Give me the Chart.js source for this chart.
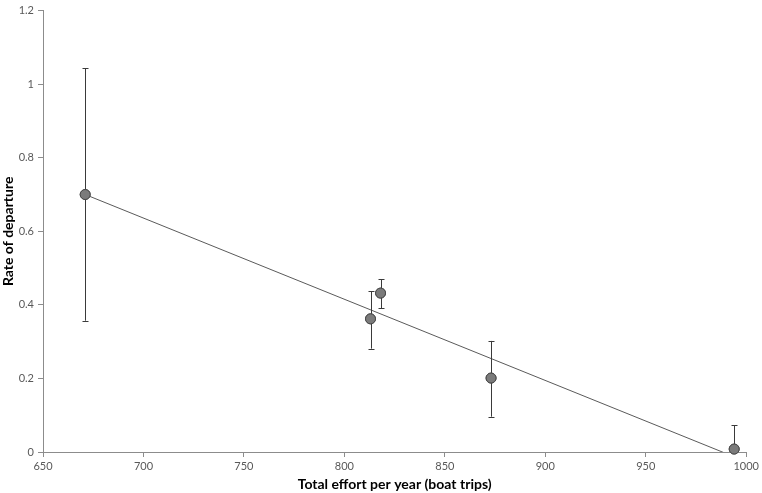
<!DOCTYPE html>
<html>
<head>
<meta charset="utf-8">
<script src="https://cdn.jsdelivr.net/npm/chart.js@4"></script>
<style>
html,body{margin:0;padding:0;background:#fff;}
#wrap{width:762px;height:493px;position:relative;}
</style>
</head>
<body>
<div id="wrap"><canvas id="c" width="762" height="493"></canvas></div>
<script>
// Data
const effort = [671, 813, 818, 873, 994];
const departureRate = [0.700, 0.362, 0.432, 0.201, 0.008];
const errorUpper = [1.043, 0.437, 0.469, 0.302, 0.073];
const errorLower = [0.357, 0.281, 0.391, 0.096, -0.06];
const trendX = [671, 994];
const trendY = [0.700, -0.013];
const xTicks = [650, 700, 750, 800, 850, 900, 950, 1000];
const yTicks = [0, 0.2, 0.4, 0.6, 0.8, 1, 1.2];

const FONT = 'Lato, "Open Sans", sans-serif';

const errorBarPlugin = {
  id: 'errorBars',
  afterDatasetsDraw(chart) {
    const ctx = chart.ctx, xs = chart.scales.x, ys = chart.scales.y, a = chart.chartArea;
    ctx.save();
    ctx.beginPath();
    ctx.rect(a.left, a.top - 1, a.right - a.left, a.bottom - a.top + 1);
    ctx.clip();
    ctx.strokeStyle = '#3a3a3a';
    ctx.lineWidth = 1;
    for (let i = 0; i < effort.length; i++) {
      const px = Math.round(xs.getPixelForValue(effort[i])) + 0.5;
      const top = ys.getPixelForValue(errorUpper[i]);
      const bot = ys.getPixelForValue(errorLower[i]);
      ctx.beginPath();
      ctx.moveTo(px, top); ctx.lineTo(px, bot);
      ctx.moveTo(px - 3, Math.round(top) + 0.5); ctx.lineTo(px + 3, Math.round(top) + 0.5);
      ctx.moveTo(px - 3, Math.round(bot) + 0.5); ctx.lineTo(px + 3, Math.round(bot) + 0.5);
      ctx.stroke();
    }
    ctx.restore();
    // redraw points above error bars
    const meta = chart.getDatasetMeta(1);
    meta.controller.draw();
  }
};

new Chart(document.getElementById('c'), {
  type: 'scatter',
  data: {
    datasets: [
      {
        type: 'line',
        data: trendX.map((x, i) => ({x, y: trendY[i]})),
        borderColor: '#5a5a5a',
        borderWidth: 1,
        pointRadius: 0,
        fill: false,
        clip: {left: 0, top: 0, right: 0, bottom: 0}
      },
      {
        data: effort.map((x, i) => ({x, y: departureRate[i]})),
        backgroundColor: '#7b7b7b',
        borderColor: '#4a4a4a',
        borderWidth: 1,
        pointRadius: 5,
        clip: false
      }
    ]
  },
  options: {
    responsive: false,
    animation: false,
    events: [],
    layout: {padding: {left: 0, right: 12, top: 5, bottom: 0}},
    plugins: {legend: {display: false}, tooltip: {enabled: false}},
    scales: {
      x: {
        type: 'linear',
        min: 650, max: 1000,
        afterBuildTicks(s) { s.ticks = xTicks.map(v => ({value: v})); },
        afterFit(s) { s.height = 41; },
        border: {display: true, color: '#8c8c8c', width: 1},
        grid: {display: true, drawOnChartArea: false, drawTicks: true, tickLength: 5, color: '#8c8c8c'},
        ticks: {color: '#595959', font: {family: FONT, size: 11}, padding: 3, maxRotation: 0, callback: v => String(v)},
        title: {display: true, text: 'Total effort per year (boat trips)', color: '#000', font: {family: FONT, size: 14, weight: 'bold'}, padding: {top: 0, bottom: 0}}
      },
      y: {
        type: 'linear',
        min: 0, max: 1.2,
        afterBuildTicks(s) { s.ticks = yTicks.map(v => ({value: v})); },
        afterFit(s) { s.width = 43; },
        border: {display: true, color: '#8c8c8c', width: 1},
        grid: {display: true, drawOnChartArea: false, drawTicks: true, tickLength: 5, color: '#8c8c8c'},
        ticks: {color: '#595959', font: {family: FONT, size: 11}, padding: 4, callback: v => String(v)},
        title: {display: true, text: 'Rate of departure', color: '#000', font: {family: FONT, size: 14, weight: 'bold'}, padding: {top: 0, bottom: 0}}
      }
    }
  },
  plugins: [errorBarPlugin]
});
</script>
</body>
</html>
